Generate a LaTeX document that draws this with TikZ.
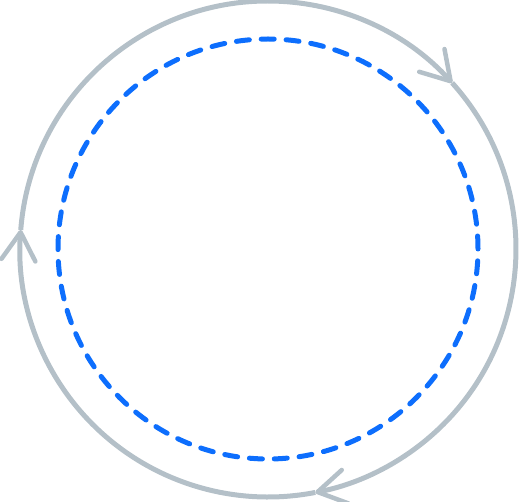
\documentclass[tikz,border=0pt]{standalone}
\usetikzlibrary{arrows.meta}
\definecolor{loopgray}{RGB}{180,192,200}
\definecolor{loopblue}{RGB}{13,110,253}

\begin{document}
\begin{tikzpicture}[x=1pt,y=1pt,
	flow/.style={draw=loopgray, line width=5pt,
		-{Straight Barb[length=28pt,width=34pt,line width=4.5pt,round]}},
	ring/.style={draw=loopblue, line width=5pt, line cap=round,
		dash pattern=on 13pt off 11.9pt}]
	\useasboundingbox (0,0) rectangle (519,501);
	\newcommand{\outerr}{248}
	\coordinate (c) at (268,252);
	\foreach \name/\ang in {top/42.06, left/175.6, bottom/281}
	{
		\coordinate (\name) at ([shift={(\ang:\outerr)}]c);
	}
	% outer loop, clockwise
	\draw[flow] (left) arc[start angle=175.6, end angle=42.06, radius=\outerr];
	\draw[flow] (top) arc[start angle=42.06, end angle=-79, radius=\outerr];
	\draw[flow] (bottom) arc[start angle=281, end angle=175.6, radius=\outerr];
	% inner dashed ring
	\draw[ring] (c) circle[radius=210];
\end{tikzpicture}
\end{document}
